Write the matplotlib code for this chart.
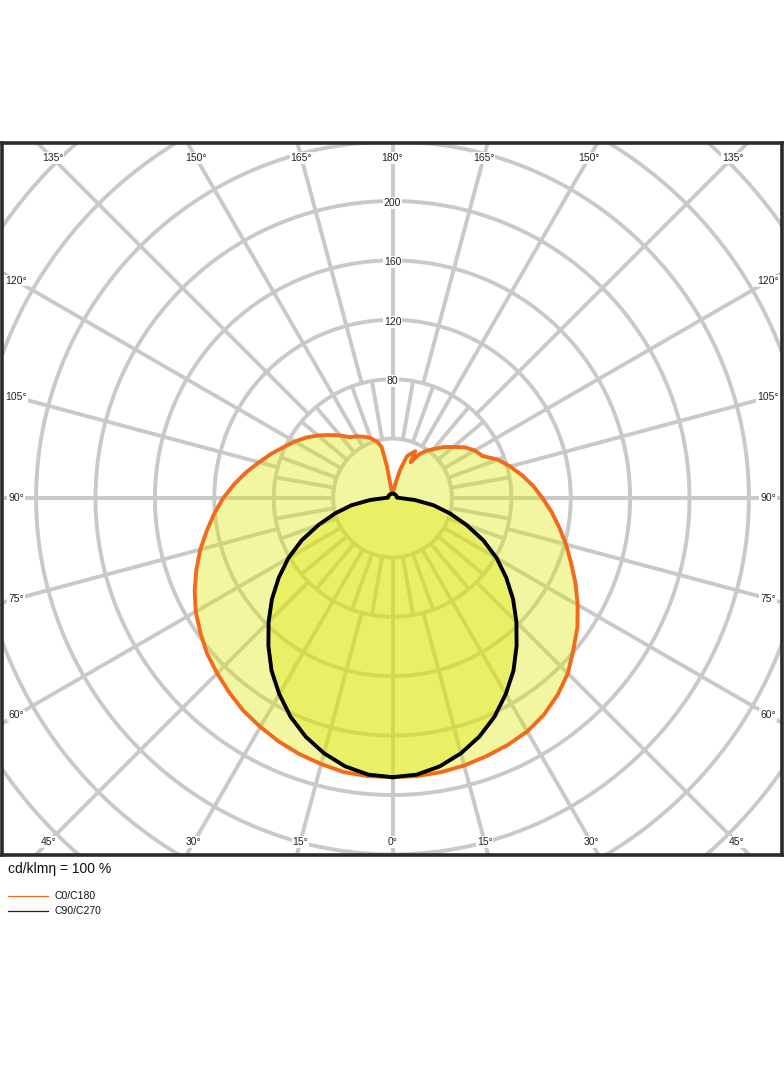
# Polar luminous intensity diagram (cd/klm), C0/C180 and C90/C270 planes
import numpy as np
import matplotlib.pyplot as plt
from matplotlib.lines import Line2D

plt.rcParams['font.family'] = ['Liberation Sans', 'DejaVu Sans']

# --- data (gamma in degrees, intensity in cd/klm) ---
gamma_c0 = [0, 5, 10, 15, 20, 25, 30, 35, 40, 45, 50, 55, 60, 65, 70, 75, 80, 85, 90,
            95, 100, 105, 110, 115, 120, 125, 130, 135, 140, 145, 149, 153, 154, 158,
            161, 165, 170, 175, 180]
int_c0 = [188, 188, 187.5, 186.5, 185, 183.5, 181.5, 178, 173, 167, 159, 152, 144, 136,
          128, 121, 114, 107.5, 101, 95, 88.5, 82, 75.5, 67, 64, 59.5, 53.5, 48.5, 43,
          38.5, 34, 27, 35, 32, 29.5, 19.5, 8, 4, 3]

gamma_c180 = [0, 5, 10, 15, 20, 25, 30, 35, 40, 45, 50, 55, 60, 65, 70, 75, 80, 85, 90,
              95, 100, 105, 110, 115, 120, 125, 130, 135, 140, 145, 150, 155, 160, 165,
              168, 170, 171, 173, 175, 180]
int_c180 = [188, 188, 187.5, 185.5, 183.5, 181, 178, 175, 171, 167, 163, 158, 153, 147,
            140.5, 134, 127, 120.5, 114, 107, 100, 93, 87, 81, 76, 71, 65.5, 60, 55, 50,
            48, 45.5, 43, 39, 35, 22, 10, 5, 4, 3]

gamma_c90 = [0, 5, 10, 15, 20, 25, 30, 35, 40, 45, 50, 55, 60, 65, 70, 75, 80, 85, 90,
             95, 120, 150, 180]
int_c90 = [188, 187, 183.5, 178, 171, 162.5, 152.5, 142, 130, 118, 106, 93.5, 81, 67.5,
           53, 40, 28, 15, 5, 3, 3, 3, 3]

ring_values = [40, 80, 120, 160, 200, 240, 280, 320]
ring_labels = [80, 120, 160, 200]
angle_labels = list(range(0, 181, 15))

legend_title = 'cd/klmη = 100 %'
legend_names = ['C0/C180', 'C90/C270']

# --- layout (pixels of the 784x1066 canvas) ---
W, H = 784, 1066
SCALE = 1.485          # px per cd
CX, CY = 392.5, 498    # diagram centre
FRAME = (2, 143, 782, 855)   # left, top, right, bottom
GRID = '#c9c9c9'
ORANGE = '#f26b1d'
FILL = '#dce700'


def to_xy(gamma, values, side):
    g = np.radians(np.asarray(gamma, dtype=float))
    r = np.asarray(values, dtype=float)
    return side * r * np.sin(g), -r * np.cos(g)


def spoke(g, r0, r1):
    gr = np.radians(g)
    ax.plot([r0 * np.sin(gr), r1 * np.sin(gr)], [-r0 * np.cos(gr), -r1 * np.cos(gr)],
            color=GRID, lw=2.8, zorder=1, solid_capstyle='butt')


fig = plt.figure(figsize=(W / 100, H / 100), dpi=100)
l, t, r, b = FRAME
ax = fig.add_axes([l / W, (H - b) / H, (r - l) / W, (b - t) / H])
ax.set_xlim((l - CX) / SCALE, (r - CX) / SCALE)
ax.set_ylim(-(b - CY) / SCALE, (CY - t) / SCALE)
ax.set_xticks([])
ax.set_yticks([])
for sp in ax.spines.values():
    sp.set_linewidth(2.6)
    sp.set_color('#2b2b2b')
    sp.set_zorder(10)

# polar grid: rings, short spokes every 10 deg in the inner ring, long ones every 15 deg
th = np.linspace(0, 2 * np.pi, 721)
for rv in ring_values:
    ax.plot(rv * np.cos(th), rv * np.sin(th), color=GRID, lw=2.8, zorder=1)
for g in range(0, 360, 10):
    spoke(g, 40, 80)
for g in range(0, 360, 15):
    spoke(g, 80, 420)

# radial value labels
for v in ring_labels:
    ax.text(0, v - 1.3, str(v), ha='center', va='center', fontsize=7.5, color='#222222',
            zorder=3, bbox=dict(boxstyle='square,pad=0.08', fc='white', ec='none'))

# angle labels along an inset rectangle
box_l, box_r = (16 - CX) / SCALE, (768 - CX) / SCALE
box_t, box_b = (CY - 158) / SCALE, -(842 - CY) / SCALE
for g in angle_labels:
    sides = [1] if g in (0, 180) else [-1, 1]
    for side in sides:
        gr = np.radians(g)
        dx, dy = side * np.sin(gr), -np.cos(gr)
        ts = []
        if abs(dx) > 1e-9:
            ts.append((box_r if dx > 0 else box_l) / dx)
        if abs(dy) > 1e-9:
            ts.append((box_t if dy > 0 else box_b) / dy)
        tt = min(ts)
        ax.text(tt * dx, tt * dy, f'{g}°', ha='center', va='center', fontsize=7.5,
                color='#222222', zorder=3,
                bbox=dict(boxstyle='square,pad=0.08', fc='white', ec='none'))

# C0/C180 curve: left half is C180, right half C0
xl, yl = to_xy(gamma_c180, int_c180, -1)
xr, yr = to_xy(gamma_c0, int_c0, 1)
ox = np.concatenate([xl, xr[::-1]])
oy = np.concatenate([yl, yr[::-1]])
ax.fill(ox, oy, color=FILL, alpha=0.37, lw=0, zorder=2)
ax.plot(ox, oy, color=ORANGE, lw=2.8, zorder=4, solid_joinstyle='round')

# C90/C270 curve
bl, blt = to_xy(gamma_c90, int_c90, -1)
br, brt = to_xy(gamma_c90, int_c90, 1)
kx = np.concatenate([bl, br[::-1]])
ky = np.concatenate([blt, brt[::-1]])
ax.fill(kx, ky, color=FILL, alpha=0.37, lw=0, zorder=2)
ax.plot(kx, ky, color='black', lw=2.8, zorder=5, solid_joinstyle='round')

# legend below the frame
fig.text(8 / W, 1 - 869 / H, legend_title, ha='left', va='center', fontsize=10,
         color='#111111')
for i, (name, col) in enumerate(zip(legend_names, [ORANGE, '#222222'])):
    yy = 1 - (896 + 15 * i) / H
    fig.add_artist(Line2D([8 / W, 48 / W], [yy, yy], color=col, lw=0.9,
                          transform=fig.transFigure))
    fig.text(55 / W, yy, name, ha='left', va='center', fontsize=7.5, color='#111111')

fig.savefig('out.png', dpi=100, facecolor='white')
